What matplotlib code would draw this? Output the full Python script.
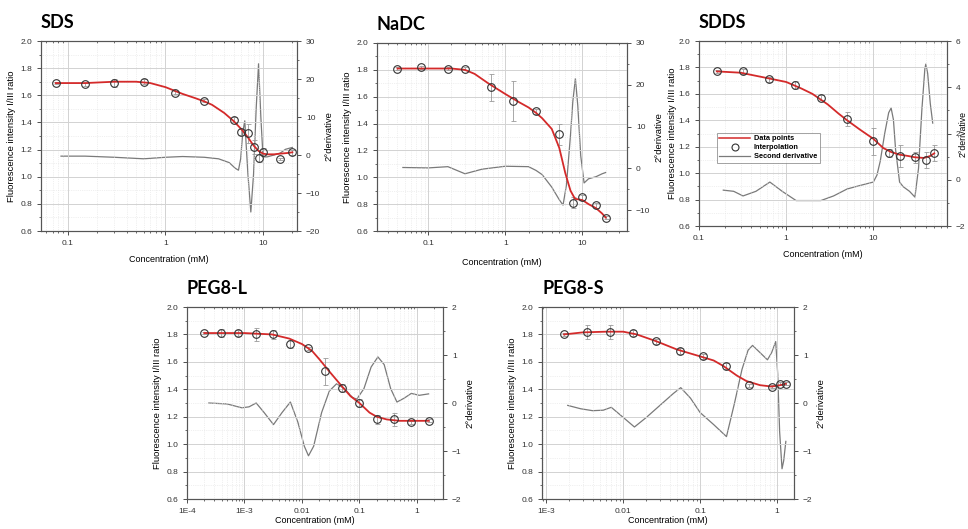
import matplotlib.pyplot as plt
from matplotlib.lines import Line2D
from matplotlib.ticker import LogLocator, MultipleLocator, NullFormatter

plt.rcParams['font.family'] = ['Liberation Sans', 'DejaVu Sans']

W, H = 968, 529

# ---- SDS ----
sds_conc = [0.075, 0.15, 0.3, 0.6, 1.25, 2.5, 5, 6, 7, 8, 9, 10, 15, 20]
sds_ratio = [1.69, 1.68, 1.69, 1.70, 1.62, 1.56, 1.42, 1.33, 1.32, 1.22, 1.14, 1.18, 1.13, 1.18]
sds_err = [0.01, 0.01, 0.03, 0.02, 0.01, 0.01, 0.02, 0.02, 0.07, 0.05, 0.03, 0.03, 0.01, 0.02]
sds_fit_x = [0.075, 0.15, 0.3, 0.5, 0.7, 1.0, 1.5, 2.0, 2.5, 3.0, 4.0, 5.0, 6.0, 7.0, 8.0, 9.0, 10, 11, 13, 15, 18, 20]
sds_fit_y = [1.69, 1.69, 1.70, 1.70, 1.69, 1.66, 1.61, 1.58, 1.555, 1.53, 1.47, 1.41, 1.35, 1.29, 1.23, 1.19, 1.17, 1.165, 1.165, 1.17, 1.175, 1.18]
sds_d2_x = [0.085, 0.15, 0.3, 0.6, 1.0, 1.5, 2.5, 3.5, 4.5, 5.2, 5.6, 5.9, 6.2, 6.5, 7.0, 7.5, 8.0, 8.5, 9.0, 9.5, 10, 11, 13, 15, 17, 20]
sds_d2_y = [-0.3, -0.3, -0.6, -1.0, -0.6, -0.4, -0.6, -1.0, -2.0, -3.5, -4.0, -1.0, 6.0, 9.0, -5.0, -15.0, -5.0, 12.0, 24.0, 10.0, -0.5, -0.5, 0.0, 0.5, 1.5, 2.0]

# ---- NaDC ----
nadc_conc = [0.04, 0.08, 0.18, 0.3, 0.65, 1.25, 2.5, 5, 7.5, 10, 15, 20]
nadc_ratio = [1.81, 1.82, 1.81, 1.81, 1.67, 1.57, 1.49, 1.32, 0.81, 0.85, 0.79, 0.70]
nadc_err = [0.01, 0.01, 0.01, 0.01, 0.10, 0.15, 0.02, 0.08, 0.04, 0.02, 0.02, 0.01]
nadc_fit_x = [0.04, 0.1, 0.2, 0.3, 0.4, 0.6, 1.0, 1.5, 2.0, 2.5, 3.0, 4.0, 5.0, 6.0, 7.0, 8.0, 10, 12, 15, 18, 20]
nadc_fit_y = [1.81, 1.81, 1.81, 1.80, 1.77, 1.70, 1.62, 1.56, 1.52, 1.48, 1.44, 1.36, 1.22, 1.03, 0.90, 0.84, 0.83, 0.80, 0.77, 0.73, 0.70]
nadc_d2_x = [0.047, 0.1, 0.18, 0.3, 0.5, 1.0, 2.0, 2.5, 3.0, 4.0, 5.0, 5.6, 6.2, 7.0, 7.5, 8.1, 8.7, 9.5, 10.5, 12, 15, 18, 20]
nadc_d2_y = [0.2, 0.1, 0.4, -1.3, -0.2, 0.5, 0.4, -0.5, -1.5, -4.5, -7.5, -8.8, -4.0, 8.0, 16.0, 21.5, 15.0, 3.0, -3.5, -2.5, -2.0, -1.3, -1.0]

# ---- SDDS ----
sdds_conc = [0.16, 0.32, 0.63, 1.25, 2.5, 5, 10, 15, 20, 30, 40, 50]
sdds_ratio = [1.77, 1.77, 1.71, 1.67, 1.57, 1.41, 1.24, 1.15, 1.13, 1.12, 1.10, 1.15]
sdds_err = [0.01, 0.02, 0.02, 0.03, 0.02, 0.05, 0.10, 0.03, 0.08, 0.04, 0.06, 0.06]
sdds_fit_x = [0.16, 0.3, 0.6, 1.0, 1.5, 2.0, 3.0, 4.0, 5.0, 7.0, 10, 13, 16, 20, 25, 30, 38, 45, 50]
sdds_fit_y = [1.77, 1.76, 1.72, 1.69, 1.64, 1.60, 1.52, 1.45, 1.40, 1.33, 1.26, 1.19, 1.16, 1.14, 1.13, 1.12, 1.115, 1.13, 1.15]
sdds_d2_x = [0.19, 0.25, 0.32, 0.45, 0.65, 0.9, 1.3, 2.5, 3.5, 5, 7, 10, 11, 12, 13.5, 15, 16, 17, 18, 20, 22, 26, 30, 33, 36, 39, 40, 42, 45, 48]
sdds_d2_y = [-0.45, -0.5, -0.7, -0.5, -0.1, -0.5, -0.9, -0.9, -0.7, -0.4, -0.25, -0.1, 0.2, 0.8, 2.0, 2.9, 3.1, 2.6, 1.3, -0.1, -0.3, -0.5, -0.75, 0.5, 3.0, 4.8, 5.0, 4.6, 3.3, 2.45]

# ---- PEG8-L ----
pegl_conc = [1.95e-4, 3.9e-4, 7.8e-4, 1.56e-3, 3.125e-3, 6.25e-3, 0.0125, 0.025, 0.05, 0.1, 0.2, 0.4, 0.8, 1.6]
pegl_ratio = [1.81, 1.81, 1.81, 1.80, 1.80, 1.73, 1.70, 1.53, 1.41, 1.30, 1.18, 1.18, 1.16, 1.17]
pegl_err = [0.01, 0.03, 0.02, 0.05, 0.03, 0.03, 0.01, 0.10, 0.03, 0.03, 0.03, 0.05, 0.01, 0.01]
pegl_fit_x = [2e-4, 1e-3, 3e-3, 6e-3, 0.01, 0.015, 0.02, 0.03, 0.05, 0.07, 0.1, 0.15, 0.2, 0.3, 0.5, 1.0, 1.6]
pegl_fit_y = [1.81, 1.81, 1.80, 1.77, 1.73, 1.68, 1.62, 1.53, 1.42, 1.35, 1.30, 1.23, 1.20, 1.18, 1.17, 1.17, 1.17]
pegl_d2_x = [2.4e-4, 5e-4, 9e-4, 1.2e-3, 1.6e-3, 2.2e-3, 3.2e-3, 4.5e-3, 6.3e-3, 8.5e-3, 0.011, 0.013, 0.016, 0.022, 0.03, 0.04, 0.055, 0.075, 0.09, 0.12, 0.16, 0.21, 0.27, 0.35, 0.45, 0.6, 0.8, 1.1, 1.6]
pegl_d2_y = [0.0, -0.02, -0.1, -0.08, 0.0, -0.2, -0.45, -0.2, 0.02, -0.4, -0.9, -1.1, -0.9, -0.2, 0.25, 0.4, 0.3, 0.12, 0.08, 0.3, 0.75, 0.96, 0.8, 0.3, 0.02, 0.1, 0.2, 0.16, 0.19]

# ---- PEG8-S ----
pegs_conc = [1.7e-3, 3.4e-3, 6.8e-3, 0.0136, 0.027, 0.054, 0.108, 0.217, 0.434, 0.868, 1.1, 1.3]
pegs_ratio = [1.80, 1.82, 1.82, 1.81, 1.75, 1.68, 1.64, 1.57, 1.43, 1.42, 1.44, 1.44]
pegs_err = [0.01, 0.05, 0.05, 0.02, 0.02, 0.02, 0.02, 0.02, 0.01, 0.01, 0.01, 0.01]
pegs_fit_x = [1.7e-3, 3e-3, 6e-3, 0.01, 0.015, 0.027, 0.05, 0.1, 0.15, 0.2, 0.3, 0.4, 0.6, 0.85, 1.1, 1.3]
pegs_fit_y = [1.80, 1.815, 1.82, 1.82, 1.80, 1.75, 1.69, 1.64, 1.61, 1.57, 1.50, 1.46, 1.43, 1.42, 1.43, 1.44]
pegs_d2_x = [1.9e-3, 2.8e-3, 4e-3, 5.5e-3, 7e-3, 0.01, 0.014, 0.02, 0.03, 0.045, 0.056, 0.075, 0.1, 0.15, 0.22, 0.28, 0.35, 0.42, 0.48, 0.6, 0.75, 0.85, 0.96, 1.02, 1.08, 1.16, 1.22, 1.3]
pegs_d2_y = [-0.05, -0.12, -0.16, -0.15, -0.09, -0.3, -0.5, -0.3, -0.05, 0.2, 0.32, 0.1, -0.2, -0.45, -0.7, 0.0, 0.7, 1.1, 1.2, 1.05, 0.9, 1.05, 1.28, 0.6, -0.6, -1.37, -1.2, -0.8]


def draw_panel(fig, box, title, conc, ratio, err, fit_x, fit_y, d2_x, d2_y,
               xlim, xticks, xlabels, ylim2, ymaj2, ymin2, xpad=6, ypad=3,
               ylab2_x=None, legend=False):
    l, t, r, b = box
    ax = fig.add_axes([l / W, 1 - b / H, (r - l) / W, (b - t) / H])
    ax2 = ax.twinx()
    ax.set_zorder(ax2.get_zorder() + 1)
    ax.patch.set_visible(False)

    ax2.plot(d2_x, d2_y, color='#7a7a7a', lw=0.9)
    ax.errorbar(conc, ratio, yerr=err, fmt='none', ecolor='#9a9a9a',
                elinewidth=0.6, capsize=1.8, capthick=0.6)
    ax.plot(fit_x, fit_y, color='#d42a2a', lw=1.3)
    ax.plot(conc, ratio, 'o', mfc='none', mec='#333333', mew=0.8, ms=5.5)

    ax.set_xscale('log')
    ax.set_xlim(*xlim)
    ax.set_ylim(0.6, 2.0)
    ax.set_xticks(xticks)
    ax.set_xticklabels(xlabels)
    ax.xaxis.set_minor_locator(LogLocator(base=10, subs=range(2, 10), numticks=20))
    ax.xaxis.set_minor_formatter(NullFormatter())
    ax.yaxis.set_major_locator(MultipleLocator(0.2))
    ax.yaxis.set_minor_locator(MultipleLocator(0.1))
    ax.yaxis.set_major_formatter(plt.FuncFormatter(lambda v, p: f'{v:.1f}'))

    ax.grid(True, which='major', color='#d2d2d2', lw=0.7)
    ax.grid(True, which='minor', color='#e2e2e2', lw=0.5, ls=':')

    ax2.set_ylim(*ylim2)
    ax2.yaxis.set_major_locator(MultipleLocator(ymaj2))
    ax2.yaxis.set_minor_locator(MultipleLocator(ymin2))

    for a in (ax, ax2):
        for s in a.spines.values():
            s.set_color('#555555')
            s.set_linewidth(0.8)
        a.tick_params(which='major', length=3, width=0.6, colors='#333333', labelsize=6)
        a.tick_params(which='minor', length=1.6, width=0.5, colors='#333333')

    # inward ticks along the top edge
    top = ax.secondary_xaxis('top')
    top.set_xticks(xticks)
    top.xaxis.set_minor_locator(LogLocator(base=10, subs=range(2, 10), numticks=20))
    top.tick_params(which='both', direction='in', labeltop=False, colors='#333333')
    top.tick_params(which='major', length=3, width=0.6)
    top.tick_params(which='minor', length=1.6, width=0.5)
    top.spines['top'].set_visible(False)

    ax.set_xlabel('Concentration (mM)', fontsize=6.5, labelpad=xpad)
    ax.set_ylabel('Fluorescence intensity I/III ratio', fontsize=6.8, labelpad=ypad)
    if ylab2_x is None:
        ax2.set_ylabel('2°derivative', fontsize=6.8, rotation=90, labelpad=3)
    else:
        ax2.set_ylabel('2°derivative', fontsize=6.3, rotation=90)
        ax2.yaxis.set_label_coords(ylab2_x, 0.5)

    ax.text(0.0, 1.0 + 13 / (b - t), title, transform=ax.transAxes,
            fontsize=13, fontweight='bold', family=['Lato', 'DejaVu Sans'],
            ha='left', va='baseline')

    if legend:
        handles = [
            Line2D([], [], color='#d42a2a', lw=1.1),
            Line2D([], [], ls='none', marker='o', mfc='none', mec='#333333', mew=0.8, ms=5),
            Line2D([], [], color='#7a7a7a', lw=0.9),
        ]
        leg = ax.legend(handles, ['Data points', 'Interpolation', 'Second derivative'],
                        loc='upper left', bbox_to_anchor=(0.056, 0.525),
                        prop={'size': 5.3, 'weight': 'bold'}, frameon=True,
                        fancybox=False, edgecolor='#777777', handlelength=4.2,
                        borderpad=0.35, labelspacing=0.25, handletextpad=0.5)
        leg.get_frame().set_linewidth(0.6)
    return ax


fig = plt.figure(figsize=(W / 100, H / 100), dpi=100)

draw_panel(fig, (41, 41, 297, 231), 'SDS', sds_conc, sds_ratio, sds_err,
           sds_fit_x, sds_fit_y, sds_d2_x, sds_d2_y,
           (0.053, 22.3), [0.1, 1, 10], ['0.1', '1', '10'], (-20, 30), 10, 5)
draw_panel(fig, (377, 43, 627, 231), 'NaDC', nadc_conc, nadc_ratio, nadc_err,
           nadc_fit_x, nadc_fit_y, nadc_d2_x, nadc_d2_y,
           (0.0217, 37.8), [0.1, 1, 10], ['0.1', '1', '10'], (-15, 30), 10, 5, xpad=8)
draw_panel(fig, (699, 41, 947, 226), 'SDDS', sdds_conc, sdds_ratio, sdds_err,
           sdds_fit_x, sdds_fit_y, sdds_d2_x, sdds_d2_y,
           (0.1, 70), [0.1, 1, 10], ['0.1', '1', '10'], (-2, 6), 2, 1,
           xpad=6, ypad=0.5, ylab2_x=1.048, legend=True)
draw_panel(fig, (187, 307, 443, 499), 'PEG8-L', pegl_conc, pegl_ratio, pegl_err,
           pegl_fit_x, pegl_fit_y, pegl_d2_x, pegl_d2_y,
           (1e-4, 2.85), [1e-4, 1e-3, 0.01, 0.1, 1], ['1E-4', '1E-3', '0.01', '0.1', '1'],
           (-2, 2), 1, 0.5, xpad=1)
draw_panel(fig, (542, 307, 794, 499), 'PEG8-S', pegs_conc, pegs_ratio, pegs_err,
           pegs_fit_x, pegs_fit_y, pegs_d2_x, pegs_d2_y,
           (8.8e-4, 1.66), [1e-3, 0.01, 0.1, 1], ['1E-3', '0.01', '0.1', '1'],
           (-2, 2), 1, 0.5, xpad=1)

fig.savefig('out.png', dpi=100)
